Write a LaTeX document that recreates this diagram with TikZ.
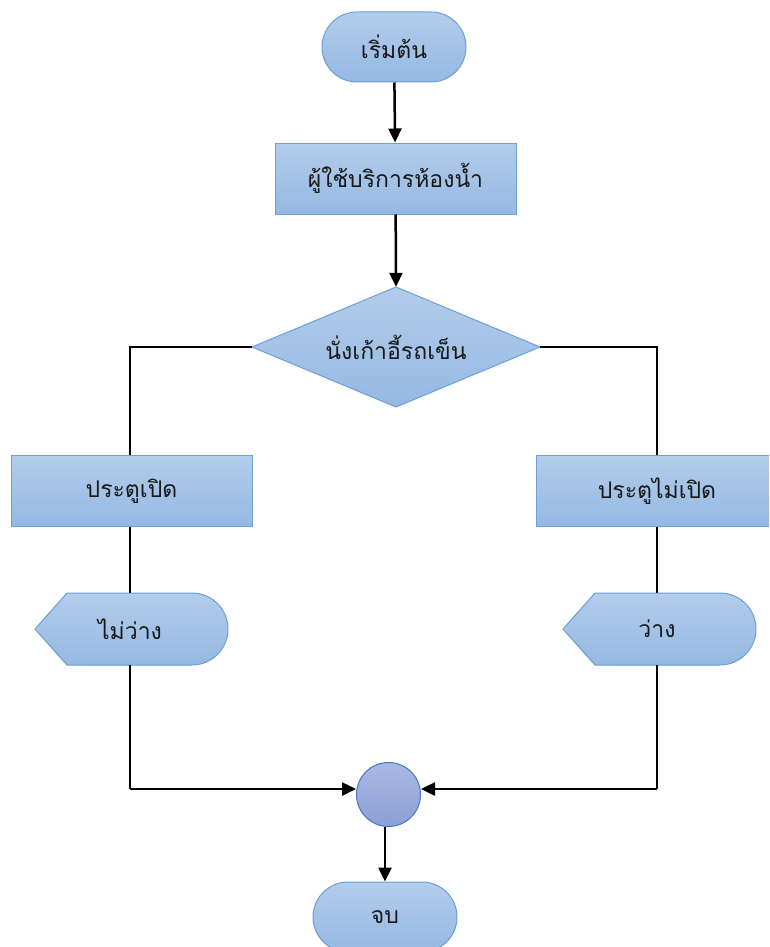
\documentclass[tikz,border=0pt]{standalone}
\usepackage{fontspec}
\newfontfamily\thaifont[Script=Thai]{Loma}
\usetikzlibrary{shapes.geometric,arrows.meta}
\definecolor{bt}{HTML}{B3CDEB}
\definecolor{bb}{HTML}{95B8E2}
\definecolor{bd}{HTML}{6A9FD8}
\definecolor{ct}{HTML}{A9B7E2}
\definecolor{cb}{HTML}{8CA0D8}
\definecolor{cd}{HTML}{4A73C6}
\tikzset{
  txt/.style={font=\thaifont\fontsize{23}{26}\selectfont, text=black!90},
  shp/.style={draw=bd, line width=1pt, top color=bt, bottom color=bb, txt},
  term/.style={shp, minimum width=144pt, minimum height=70pt, rounded corners=35pt, inner sep=0pt},
  proc/.style={shp, minimum width=241pt, minimum height=71pt, inner sep=0pt},
  lbl/.style={txt, inner sep=0pt},
  conn/.style={line width=2.5pt, black},
  arr/.style={conn, -{Triangle[length=14pt,width=13pt]}}
}
\begin{document}
\begin{tikzpicture}[x=1pt,y=-1pt]
\useasboundingbox (0,0) rectangle (769,947);
\clip (0,0) rectangle (769,947);
\fill[white] (0,0) rectangle (769,947);
\node[term] (start) at (394,47) {เริ่มต้น};
\node[proc] (user) at (395.5,178.5) {ผู้ใช้บริการห้องน้ำ};
% decision
\path[shp] (252,347) -- (396,287) -- (540,347) -- (396,407) -- cycle;
\node[lbl, minimum width=288pt, minimum height=120pt] (sit) at (396,347) {นั่งเก้าอี้รถเข็น};
\node[proc] (open) at (131.5,491) {ประตูเปิด};
\node[proc] (closed) at (657,491) {ประตูไม่เปิด};
% display shapes
\path[shp] (35,629) -- (67,593) -- (192,593) arc[start angle=-90,end angle=90,radius=36] -- (67,665) -- cycle;
\path[shp] (563,629) -- (595,593) -- (720,593) arc[start angle=-90,end angle=90,radius=36] -- (595,665) -- cycle;
\node[lbl, minimum width=193pt, minimum height=72pt] (busy) at (130,629) {ไม่ว่าง};
\node[lbl, minimum width=193pt, minimum height=72pt] (free) at (657,629) {ว่าง};
\node[circle, draw=cd, line width=1pt, top color=ct, bottom color=cb, minimum size=64pt, inner sep=0pt] (merge) at (388.5,794.5) {};
\node[term] (end) at (385,917) {จบ};
\coordinate (lc) at (130,347);
\coordinate (rc) at (657,347);
\coordinate (lb) at (130,789);
\coordinate (rb) at (657,789);
\draw[arr] (start) -- (user);
\draw[arr] (user) -- (sit.north);
\draw[conn] (sit.west) -- (lc) -- (lc |- open.north);
\draw[conn] (sit.east) -- (rc) -- (rc |- closed.north);
\draw[conn] (lc |- open.south) -- (busy.north);
\draw[conn] (rc |- closed.south) -- (free.north);
\draw[conn] (busy.south) -- (lb);
\draw[arr] (lb) -- (lb -| merge.west);
\draw[conn] (free.south) -- (rb);
\draw[arr] (rb) -- (rb -| merge.east);
\draw[arr] (merge.south -| end.north) -- (end.north);
\end{tikzpicture}
\end{document}
